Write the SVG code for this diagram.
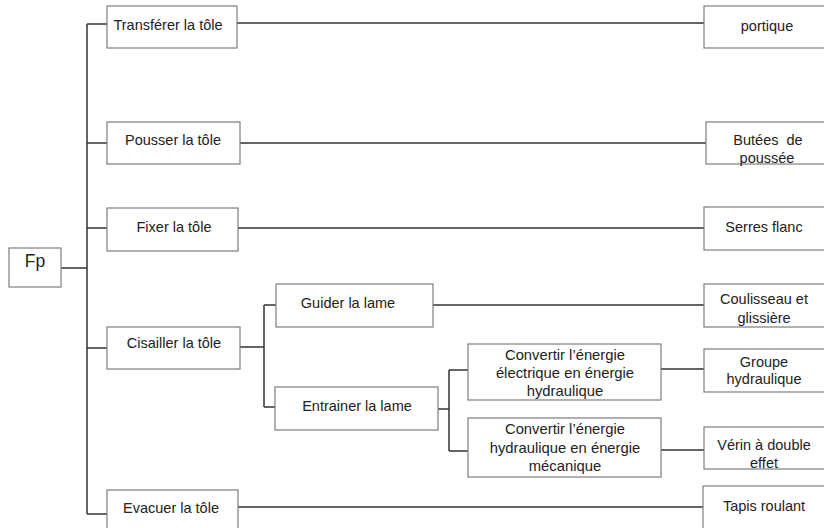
<svg xmlns="http://www.w3.org/2000/svg" width="824" height="528" viewBox="0 0 824 528">
<style>
.box{fill:#fff;stroke:#7d7d7d;stroke-width:1.2}
.t{font-family:"Liberation Sans",Arial,sans-serif;font-size:14.5px;fill:#222;text-anchor:middle}
.s{font-size:14.8px}
.c{fill:none;stroke:#333;stroke-width:1.5}
</style>
<rect width="824" height="528" fill="#fff"/>
<g id="connectors">
<path class="c" d="M87 24V514M87 24H107M87 143H107M87 228H107M61 268H87M87 348H107M87 514H107"/>
<path class="c" d="M237 23H704M240 143H706M238 228H704M238 507H703"/>
<path class="c" d="M240 347H264M264 305V407M264 305H276M264 407H275M433 305H704"/>
<path class="c" d="M438 409H449M449 370V451M449 370H468M449 451H468M661 369H704M661 450H704"/>
</g>
<g id="fp"><rect class="box" x="9" y="248" width="52" height="39"/><text class="t" x="35" y="267" style="font-size:17.5px">Fp</text></g>
<g id="transferer"><rect class="box" x="107" y="6" width="130" height="42"/><text class="t" x="168" y="30">Transférer la tôle</text></g>
<g id="pousser"><rect class="box" x="107" y="122" width="133" height="42"/><text class="t" x="173" y="145">Pousser la tôle</text></g>
<g id="fixer"><rect class="box" x="107" y="208" width="131" height="43"/><text class="t" x="174" y="232">Fixer la tôle</text></g>
<g id="cisailler"><rect class="box" x="107" y="327" width="133" height="42"/><text class="t" x="174" y="348">Cisailler la tôle</text></g>
<g id="evacuer"><rect class="box" x="107" y="490" width="131" height="45"/><text class="t" x="171" y="513">Evacuer la tôle</text></g>
<g id="guider"><rect class="box" x="276" y="284" width="157" height="43"/><text class="t" x="348" y="308">Guider la lame</text></g>
<g id="entrainer"><rect class="box" x="275" y="387" width="163" height="43"/><text class="t" x="357" y="411">Entrainer la lame</text></g>
<g id="convertir1"><rect class="box" x="468" y="344" width="193" height="56"/><text class="t s" x="565" y="360">Convertir l’énergie</text><text class="t s" x="565" y="378">électrique en énergie</text><text class="t s" x="565" y="396">hydraulique</text></g>
<g id="convertir2"><rect class="box" x="468" y="418" width="193" height="59"/><text class="t s" x="565" y="434">Convertir l’énergie</text><text class="t s" x="565" y="453">hydraulique en énergie</text><text class="t s" x="565" y="471">mécanique</text></g>
<g id="portique"><rect class="box" x="704" y="6" width="124" height="42"/><text class="t" x="767" y="31">portique</text></g>
<g id="butees"><rect class="box" x="706" y="122" width="124" height="42"/><text class="t" x="768" y="145" xml:space="preserve">Butées  de</text><text class="t" x="767" y="163">poussée</text></g>
<g id="serres"><rect class="box" x="704" y="207" width="124" height="43"/><text class="t" x="764" y="232">Serres flanc</text></g>
<g id="coulisseau"><rect class="box" x="704" y="284" width="124" height="43"/><text class="t" x="764" y="304">Coulisseau et</text><text class="t" x="764" y="323">glissière</text></g>
<g id="groupe"><rect class="box" x="704" y="349" width="124" height="43"/><text class="t" x="764" y="367">Groupe</text><text class="t" x="764" y="384">hydraulique</text></g>
<g id="verin"><rect class="box" x="704" y="427" width="124" height="42"/><text class="t" x="764" y="450">Vérin à double</text><text class="t" x="764" y="468">effet</text></g>
<g id="tapis"><rect class="box" x="703" y="486" width="124" height="50"/><text class="t" x="764" y="511">Tapis roulant</text></g>
</svg>
